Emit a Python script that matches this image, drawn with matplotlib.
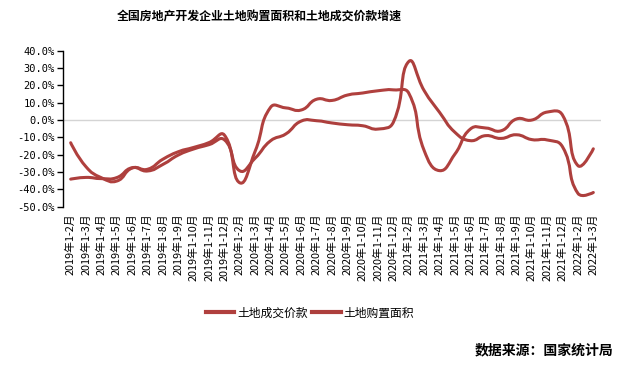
import matplotlib
matplotlib.use("Agg")
import matplotlib.pyplot as plt
import numpy as np
from matplotlib.path import Path
from matplotlib.patches import PathPatch
from matplotlib.lines import Line2D

plt.rcParams["font.family"] = ["Noto Sans CJK SC", "DejaVu Sans"]

periods = (["2019年1-%d月" % m for m in range(2, 13)]
           + ["2020年1-%d月" % m for m in range(2, 13)]
           + ["2021年1-%d月" % m for m in range(2, 13)]
           + ["2022年1-2月", "2022年1-3月"])

# 土地成交价款 cumulative yoy growth (%)
price = [-13.1, -27.0, -33.3, -35.2, -27.7, -28.4, -22.6, -18.3, -15.8, -13.0, -8.7,
         -36.2, -18.0, 7.3, 7.0, 5.8, 12.0, 11.3, 14.4, 15.6, 16.9, 17.4,
         15.4, -17.7, -29.2, -19.6, -5.2, -4.6, -6.2, 0.6, 0.0, 4.6, 2.8,
         -26.3, -16.6]
# 土地购置面积 cumulative yoy growth (%)
area = [-34.1, -33.1, -33.8, -33.2, -27.5, -29.4, -25.6, -20.2, -16.7, -14.2, -11.4,
        -29.3, -22.0, -12.0, -8.0, -0.6, -0.4, -1.7, -2.7, -3.3, -5.2, -1.1,
        33.8, 16.9, 4.4, -7.1, -11.9, -9.0, -10.6, -8.5, -11.3, -11.5, -15.5,
        -42.3, -41.8]

series_names = ["土地成交价款", "土地购置面积"]
colors = ["#b0403e", "#ad3f3d"]
yticks = list(range(-50, 41, 10))


def smooth_path(xs, ys, sx, sy, s=0.5):
    # bezier smoothing in pixel space, like a "smooth" line chart
    p = np.column_stack([np.asarray(xs, float) * sx, np.asarray(ys, float) * sy])
    n = len(p)
    cin, cout = p.copy(), p.copy()
    for i in range(1, n - 1):
        v = (p[i + 1] - p[i - 1]) * s
        d0 = np.hypot(*(p[i] - p[i - 1]))
        d1 = np.hypot(*(p[i + 1] - p[i]))
        tot = d0 + d1
        cin[i] = p[i] - v * d0 / tot
        cout[i] = p[i] + v * d1 / tot
    verts, codes = [tuple(p[0])], [Path.MOVETO]
    for i in range(n - 1):
        verts += [tuple(cout[i]), tuple(cin[i + 1]), tuple(p[i + 1])]
        codes += [Path.CURVE4] * 3
    verts = np.array(verts) / np.array([sx, sy])
    return Path(verts, codes)


fig = plt.figure(figsize=(6.28, 3.65), dpi=100)
ax = fig.add_axes([63 / 628, 1 - 206.7 / 365, 538 / 628, 156 / 365])

x = np.arange(len(periods))
ax.axhline(0, color="#d4d4d4", lw=1, zorder=1)
for vals, c in zip([price, area], colors):
    path = smooth_path(x, vals, 15.4, 1.733)
    ax.add_patch(PathPatch(path, fill=False, edgecolor=c, lw=2.2,
                           capstyle="round", joinstyle="round", zorder=3))

ax.set_xlim(-0.5, len(periods) - 0.5)
ax.set_ylim(-50, 40)
ax.set_yticks(yticks)
ax.set_yticklabels(["%.1f%%" % v for v in yticks], family="DejaVu Sans Mono", fontsize=7.5)
ax.set_xticks(x)
ax.set_xticklabels(periods, rotation=90, fontsize=7.8, va="top", ha="center")
ax.tick_params(axis="x", length=0, pad=5)
ax.tick_params(axis="y", length=4, width=1, direction="out", color="black", pad=2)
for side in ["top", "right", "bottom"]:
    ax.spines[side].set_visible(False)
ax.spines["left"].set_linewidth(1)

fig.text(259 / 628, 1 - 17.5 / 365, "全国房地产开发企业土地购置面积和土地成交价款增速",
         ha="center", va="center", fontsize=8.6, fontweight="bold")

handles = [Line2D([], [], color=c, lw=3) for c in colors]
fig.legend(handles, series_names, loc="center", bbox_to_anchor=(310 / 628, 1 - 313 / 365),
           ncol=2, frameon=False, fontsize=8.5, handlelength=2.4, handletextpad=0.25,
           columnspacing=0.4)

fig.text(613 / 628, 1 - 350 / 365, "数据来源：国家统计局", ha="right", va="center",
         fontsize=10, fontweight="bold")

fig.savefig("out.png", dpi=100)
